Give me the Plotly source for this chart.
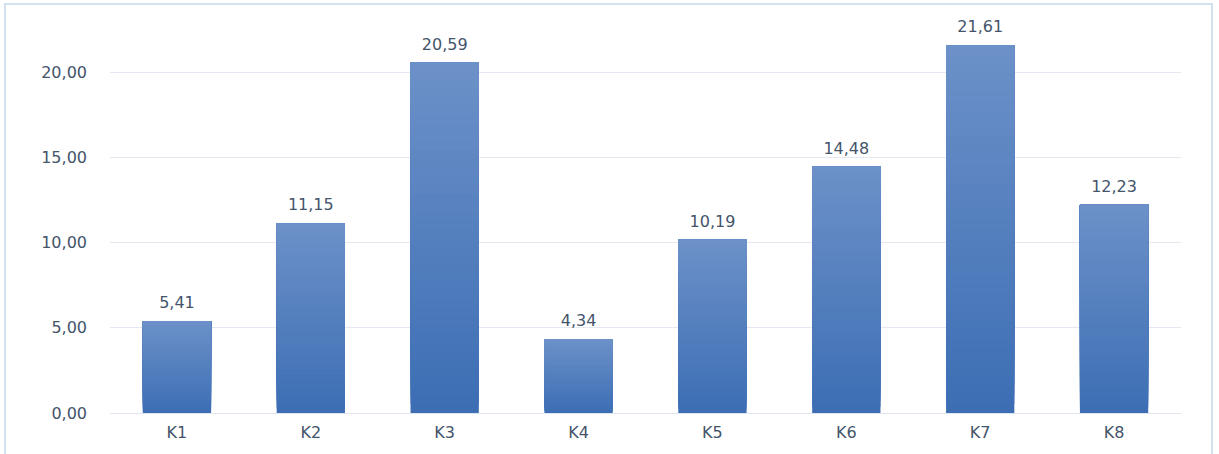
import plotly.graph_objects as go

categories = ["K1", "K2", "K3", "K4", "K5", "K6", "K7", "K8"]
values = [5.41, 11.15, 20.59, 4.34, 10.19, 14.48, 21.61, 12.23]
tick_values = [0, 5, 10, 15, 20]

W, H = 1219, 454
L, R, T, B = 110, 38, 13, 41
text_color = "#44546a"
font = "DejaVu Sans, Verdana, sans-serif"

top_rgb = (108, 145, 200)
bot_rgb = (60, 110, 180)
N = 40

fig = go.Figure()
# vertical gradient: slice i covers [v*i/N, v]; later slices paint over earlier ones
for i in range(N):
    f0 = i / N
    t = (i + 0.5) / N
    col = "rgb(%d,%d,%d)" % tuple(round(b + (a - b) * t) for a, b in zip(top_rgb, bot_rgb))
    fig.add_trace(go.Bar(
        x=categories,
        y=[v * (1 - f0) for v in values],
        base=[v * f0 for v in values],
        marker=dict(color=col, line=dict(width=0)),
        hoverinfo="skip",
        showlegend=False,
    ))
# value labels
fig.add_trace(go.Bar(
    x=categories, y=[0.35] * len(values), base=values,
    marker=dict(color="rgba(0,0,0,0)", line=dict(width=0)),
    text=[("%.2f" % v).replace(".", ",") for v in values],
    textposition="outside", cliponaxis=False,
    textfont=dict(color=text_color, size=16, family=font),
    hoverinfo="skip", showlegend=False,
))

fig.update_layout(
    width=W, height=H, barmode="overlay", bargap=0.49,
    margin=dict(l=L, r=R, t=T, b=B),
    paper_bgcolor="white", plot_bgcolor="white",
    separators=",.",
    font=dict(family=font, color=text_color, size=16),
    showlegend=False,
)
fig.update_xaxes(
    showgrid=False, showline=False, ticks="", ticklabelstandoff=8,
    tickfont=dict(size=16, color=text_color),
)
fig.update_yaxes(
    range=[0, 23.5], tickvals=tick_values, tickformat=".2f",
    showgrid=True, gridcolor="#e4e9f1", gridwidth=1,
    zeroline=True, zerolinecolor="#dfe5ee", zerolinewidth=1,
    showline=False, ticks="", ticklabelstandoff=22,
    tickfont=dict(size=16, color=text_color),
)
pw = W - L - R
ph = H - T - B
fig.add_shape(
    type="rect", xref="paper", yref="paper",
    x0=(5 - L) / pw, x1=(1212 - L) / pw,
    y0=(H - B - 480) / ph, y1=(H - B - 4) / ph,
    line=dict(color="#d3e0ef", width=2), layer="below",
)
fig.write_html("out.html")
